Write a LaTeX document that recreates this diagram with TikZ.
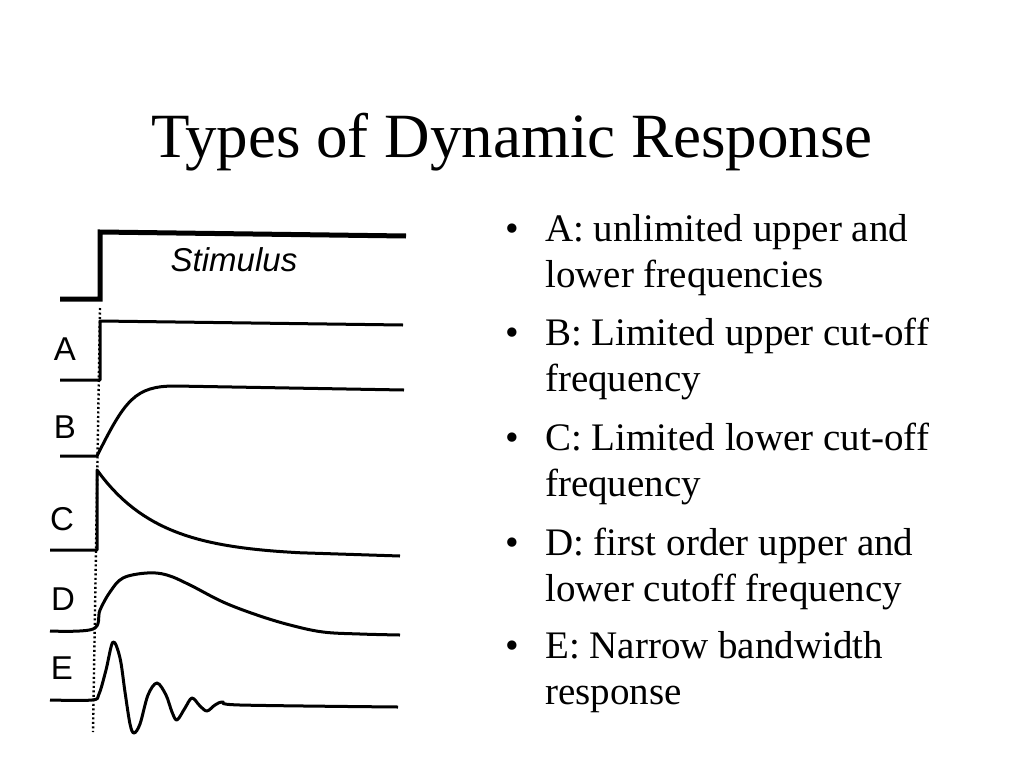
\documentclass[tikz,border=0pt]{standalone}
\usepackage{fontspec}
\setmainfont{Liberation Serif}
\newfontfamily\plotfont{Liberation Sans}
\usetikzlibrary{positioning}

\begin{document}
\begin{tikzpicture}[x=1pt, y=-1pt,
    trace/.style={line width=3pt, line join=round},
    stim/.style={line width=5pt},
    tag/.style={inner sep=0pt, font=\plotfont\fontsize{33}{34}\selectfont},
    item/.style={anchor=base west, align=left, inner sep=0pt, font=\fontsize{39}{46}\selectfont},
    bullet/.style={anchor=base, inner sep=0pt, font=\fontsize{39}{46}\selectfont}]
    \useasboundingbox (0,0) rectangle (1024,768);

    % Title
    \node[inner sep=0pt, anchor=base, font=\fontsize{63}{76}\selectfont] (title) at (512,157) {Types of Dynamic Response};

    % Stimulus step
    \draw[stim] (60,299) -- (100,299) -- (100,232) -- (406,236);
    \node[inner sep=0pt, font=\plotfont\itshape\fontsize{33}{34}\selectfont] (stimulus) at (234,260) {Stimulus};

    % Onset marker
    \coordinate (onsettop) at (100,308);
    \coordinate (onsetbot) at (93,732);
    \draw[line width=2.4pt, dash pattern=on 2pt off 2.5pt] (onsettop) -- (onsetbot);

    % Responses
    \draw[trace] (60,380) -- (100,380) -- (100,321) -- (403,325);
    \draw[trace] (60,456) -- (97,456) .. controls (125,400) and (135,386) .. (175,386) -- (404,390);
    \draw[trace] (50,550) -- (97,550) -- (97,470)
        -- plot[domain=97:300, samples=40] (\x, {556-86*exp(-(\x-97)/62)}) -- (400,556);
    \draw[trace] plot[smooth, tension=0.6] coordinates {(50,631) (93,629) (100,610) (110,592) (123,578)
        (147,573) (167,575) (190,585) (223,602) (257,615) (290,625) (323,632) (360,634) (400,635)};
    \draw[trace] plot[smooth, tension=0.55] coordinates {(50,700) (92,700) (99,694) (106,670) (113,642)
        (120,658) (125,692) (130,724) (134,733) (140,724) (148,695) (157,683) (166,695) (172,712)
        (177,720) (185,708) (192,698) (200,706) (207,711) (215,705) (223,702) (240,705) (398,707)};

    % Trace labels
    \node[tag] (labA) at (65,349) {A};
    \node[tag] (labB) at (65,427) {B};
    \node[tag] (labC) at (62,519) {C};
    \node[tag] (labD) at (63,599) {D};
    \node[tag] (labE) at (62,668) {E};

    % Bullet list (base anchor sits on the second line)
    \foreach \y/\first/\second [count=\i] in {241/{A: unlimited upper and}/{lower frequencies},
        345/{B: Limited upper cut-off}/{frequency},
        450/{C: Limited lower cut-off}/{frequency},
        555/{D: first order upper and}/{lower cutoff frequency},
        658/{E: Narrow bandwidth}/{response}} {
        \node[bullet] (dot\i) at (512,\y) {\textbullet};
        \node[item] (item\i) at (545,\y+46) {\first\\\second};
    }
\end{tikzpicture}
\end{document}
